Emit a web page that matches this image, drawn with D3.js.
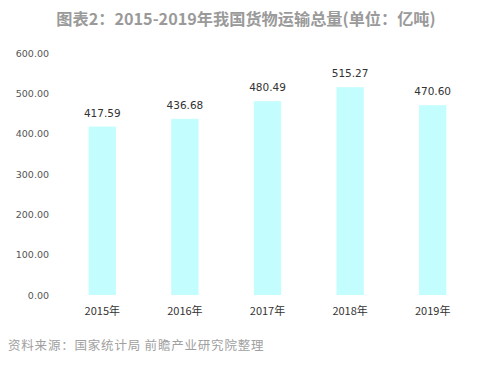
<!DOCTYPE html>
<html><head><meta charset="utf-8">
<script src="https://cdn.jsdelivr.net/npm/d3@7"></script>
<style>body{margin:0;background:#fff}svg{display:block}</style>
</head><body><svg id="c" width="493" height="366"></svg>
<script>
const categories = ["2015年","2016年","2017年","2018年","2019年"];
const values = [417.59, 436.68, 480.49, 515.27, 470.60];
const yTicks = [0,100,200,300,400,500,600];
const titleText = "图表2：2015-2019年我国货物运输总量(单位：亿吨)";
const sourceText = "资料来源：国家统计局 前瞻产业研究院整理";

const svg = d3.select("#c");
const font = "'Noto Sans CJK SC','DejaVu Sans',sans-serif";
const x = d3.scaleBand().domain(categories).range([61, 474]).paddingInner(0.67).paddingOuter(0.335);
const y = d3.scaleLinear().domain([0,600]).range([295,53]);

svg.append("text").attr("x",246).attr("y",25).attr("text-anchor","middle")
  .attr("font-family",font).attr("font-size",16.2).attr("font-weight","bold").attr("fill","#9a9a9a").text(titleText);

const ya = svg.append("g").attr("transform","translate(52,0)")
  .call(d3.axisLeft(y).tickValues(yTicks).tickFormat(d3.format(".2f")).tickSize(0).tickPadding(3));
ya.select(".domain").remove();
ya.selectAll("text").attr("font-family","'DejaVu Sans',sans-serif").attr("font-size",9.5).attr("fill","#555");

svg.append("g").selectAll("rect").data(values).join("rect")
  .attr("x",(d,i)=>x(categories[i])).attr("width",x.bandwidth())
  .attr("y",d=>y(d)).attr("height",d=>y(0)-y(d)).attr("fill","#c4fdfd");

svg.append("g").selectAll("text").data(values).join("text")
  .attr("x",(d,i)=>x(categories[i])+x.bandwidth()/2).attr("y",d=>y(d)-10)
  .attr("text-anchor","middle").attr("font-family","'DejaVu Sans',sans-serif").attr("font-size",10.5).attr("fill","#333")
  .text(d=>d.toFixed(2));

const xa = svg.append("g").attr("transform","translate(0,295)")
  .call(d3.axisBottom(x).tickSize(0).tickPadding(12));
xa.select(".domain").remove();
xa.selectAll("text").attr("font-family",font).attr("font-size",11).attr("fill","#333");

svg.append("text").attr("x",8).attr("y",350).attr("font-family",font).attr("font-size",12.5)
  .attr("fill","#a0a0a0").attr("letter-spacing",0.8).text(sourceText);
</script></body></html>
